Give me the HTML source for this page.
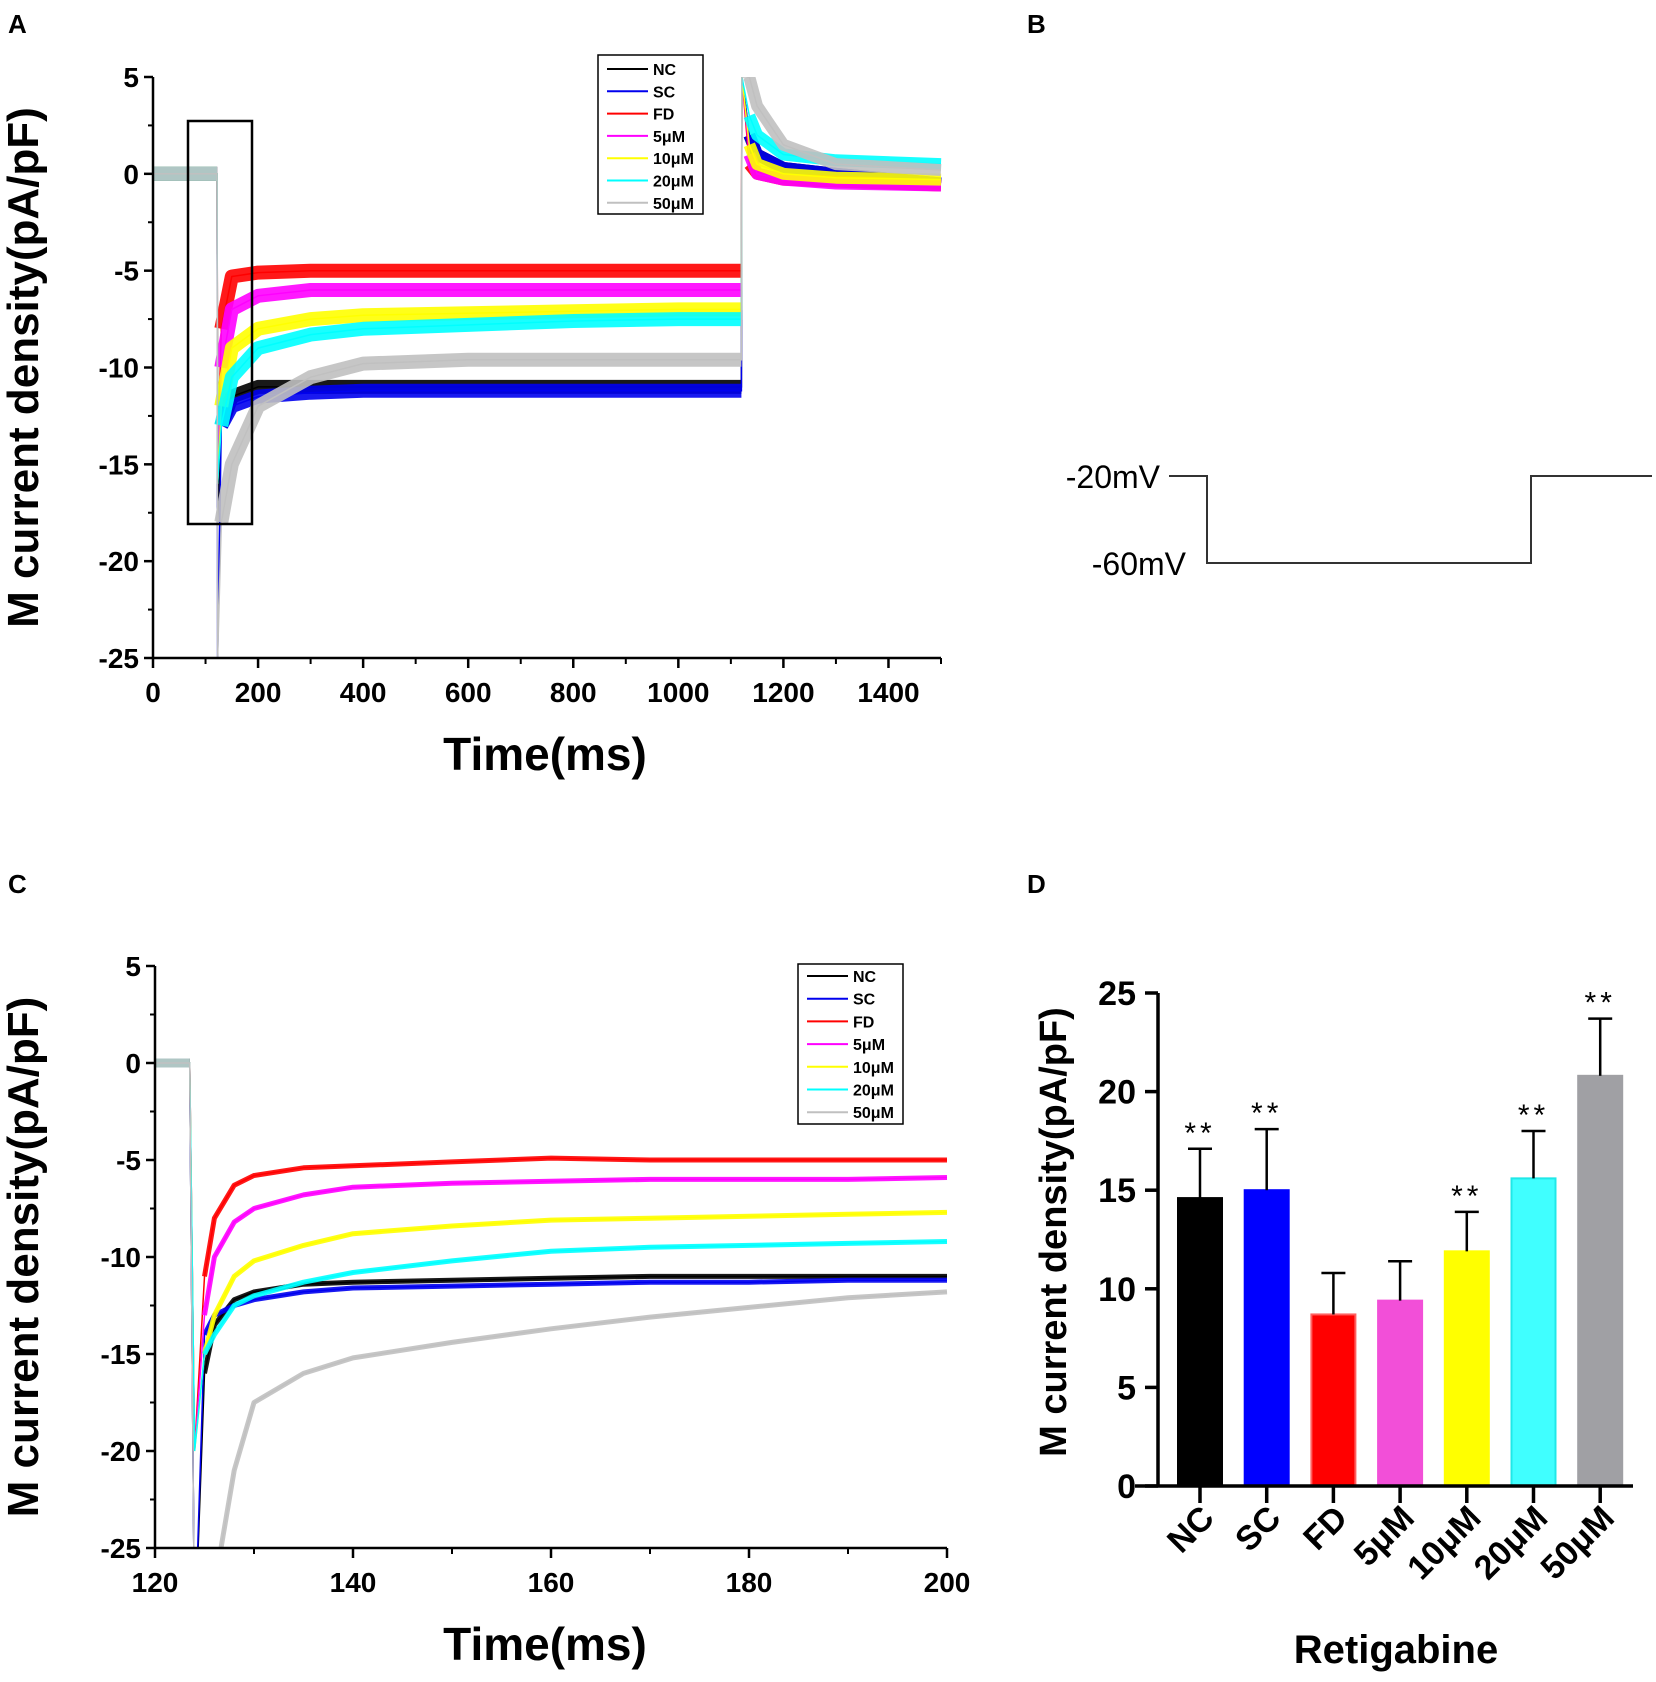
<!DOCTYPE html>
<html><head><meta charset="utf-8"><style>
html,body{margin:0;padding:0;background:#fff}
svg{display:block;font-family:"Liberation Sans",Arial,sans-serif}
</style></head><body>
<svg id="fig" width="1656" height="1682" viewBox="0 0 1656 1682" xmlns="http://www.w3.org/2000/svg">
<defs>
<clipPath id="clipA"><rect x="153" y="77" width="790" height="581"/></clipPath>
<clipPath id="clipC"><rect x="155" y="960" width="795" height="588"/></clipPath>
</defs>
<text x="8" y="33" font-size="26" font-weight="bold">A</text>
<text x="1027" y="33" font-size="26" font-weight="bold">B</text>
<text x="8" y="893" font-size="26" font-weight="bold">C</text>
<text x="1027" y="893" font-size="26" font-weight="bold">D</text>
<g id="pA"></g>
<g id="pB">
<polyline points="1169,476 1207,476 1207,563 1531,563 1531,476 1652,476" fill="none" stroke="#333" stroke-width="2"/>
<text x="1160" y="488" font-size="32" text-anchor="end">-20mV</text>
<text x="1186" y="575" font-size="32" text-anchor="end">-60mV</text>
</g>
<g id="pC"></g>
<g id="pD"></g>
</svg>
<script>
const NS="http://www.w3.org/2000/svg";
const seriesNames=["NC","SC","FD","5μM","10μM","20μM","50μM"];
const seriesColors=["#000000","#0000ee","#ff0000","#ff00ff","#ffff00","#00ffff","#c0c0c0"];
// Panel A traces (time ms, current pA/pF)
const timesA=[0,122,123,130,150,200,300,400,600,800,1000,1120,1121,1135,1150,1200,1300,1500];
const aNC=[0,0,-18,-13,-11.5,-11,-11,-11,-11,-11,-11,-11,5,2,1,0.3,0,-0.5];
const aSC=[0,0,-25,-13,-12,-11.5,-11.3,-11.2,-11.2,-11.2,-11.2,-11.2,5,2,1,0.3,0,-0.5];
const aFD=[0,0,-15,-8,-5.3,-5.1,-5,-5,-5,-5,-5,-5,5,0.5,0,-0.3,-0.4,-0.6];
const a5=[0,0,-15,-10,-7,-6.3,-6,-6,-6,-6,-6,-6,5,1,0,-0.3,-0.5,-0.6];
const a10=[0,0,-16,-12,-9,-8,-7.5,-7.3,-7.2,-7.1,-7,-7,5,1.5,0.5,0,-0.2,-0.3];
const a20=[0,0,-16,-13,-10.5,-9,-8.3,-8,-7.8,-7.6,-7.5,-7.5,5,3,2,1,0.7,0.5];
const a50=[0,0,-25,-18,-15,-12,-10.5,-9.8,-9.6,-9.6,-9.6,-9.6,5,5,3.5,1.5,0.5,0.2];
const seriesA=[aNC,aSC,aFD,a5,a10,a20,a50];
const xTicksA=[0,200,400,600,800,1000,1200,1400];
const yTicks=[5,0,-5,-10,-15,-20,-25];
// Panel C traces (zoom 120-200 ms)
const timesC=[120,123.5,124,125,126,128,130,135,140,150,160,170,180,190,200];
const cNC=[0,0,-30,-16,-13.5,-12.2,-11.8,-11.4,-11.3,-11.2,-11.1,-11,-11,-11,-11];
const cSC=[0,0,-30,-14,-13,-12.5,-12.2,-11.8,-11.6,-11.5,-11.4,-11.3,-11.3,-11.2,-11.2];
const cFD=[0,0,-20,-11,-8,-6.3,-5.8,-5.4,-5.3,-5.1,-4.9,-5,-5,-5,-5];
const c5=[0,0,-20,-13,-10,-8.2,-7.5,-6.8,-6.4,-6.2,-6.1,-6,-6,-6,-5.9];
const c10=[0,0,-20,-15,-13,-11,-10.2,-9.4,-8.8,-8.4,-8.1,-8,-7.9,-7.8,-7.7];
const c20=[0,0,-20,-15,-14,-12.5,-12,-11.3,-10.8,-10.2,-9.7,-9.5,-9.4,-9.3,-9.2];
const c50=[0,0,-30,-35,-27,-21,-17.5,-16,-15.2,-14.4,-13.7,-13.1,-12.6,-12.1,-11.8];
const seriesC=[cNC,cSC,cFD,c5,c10,c20,c50];
const xTicksC=[120,140,160,180,200];
// Panel D bars
const barCats=["NC","SC","FD","5μM","10μM","20μM","50μM"];
const barVals=[14.6,15.0,8.7,9.4,11.9,15.6,20.8];
const barErr=[17.1,18.1,10.8,11.4,13.9,18.0,23.7];
const barSig=["**","**","","","**","**","**"];
const barColors=["#000000","#0000ff","#ff0000","#f24fd8","#ffff00","#40ffff","#a0a0a4"];
const yTicksD=[0,5,10,15,20,25];

function el(tag,attrs,parent,txt){const e=document.createElementNS(NS,tag);for(const k in attrs)e.setAttribute(k,attrs[k]);if(txt!==undefined)e.textContent=txt;parent.appendChild(e);return e;}

function tracePanel(g,cfg){
  const sx=v=>cfg.x0+(v-cfg.xmin)/(cfg.xmax-cfg.xmin)*(cfg.x1-cfg.x0);
  const sy=v=>cfg.yTop+(5-v)/30*(cfg.yBot-cfg.yTop);
  const tg=el("g",{"clip-path":cfg.clip},g);
  cfg.series.forEach((s,i)=>{
    const all=cfg.times.map((t,j)=>sx(t).toFixed(1)+","+sy(s[j]).toFixed(1)).join(" ");
    const thin=el("polyline",{points:all,fill:"none",stroke:seriesColors[i],"stroke-width":1.5},tg);
    
    
    cfg.segs.forEach(sg=>{
      const pts=[];
      for(let j=sg[0];j<=sg[1];j++) pts.push(sx(cfg.times[j]).toFixed(1)+","+sy(s[j]).toFixed(1));
      const p=el("polyline",{points:pts.join(" "),fill:"none",stroke:seriesColors[i],"stroke-width":sg[2],"stroke-linejoin":"round","stroke-linecap":"butt",opacity:0.9},tg);
      
      
    });
  });
  const ax=el("line",{x1:cfg.x0,y1:cfg.yTop,x2:cfg.x0,y2:cfg.yBot,stroke:"#000","stroke-width":2.5},g);
  
  const bx=el("line",{x1:cfg.x0,y1:cfg.yBot,x2:cfg.x1,y2:cfg.yBot,stroke:"#000","stroke-width":2.5},g);
  
  yTicks.forEach(v=>{
    const y=sy(v);
    el("line",{x1:cfg.x0-9,y1:y,x2:cfg.x0,y2:y,stroke:"#000","stroke-width":2.5},g);
    if(v>-25) el("line",{x1:cfg.x0-5,y1:sy(v-2.5),x2:cfg.x0,y2:sy(v-2.5),stroke:"#000","stroke-width":2},g);
    const t=el("text",{x:cfg.x0-14,y:y+10,"font-size":28,"font-weight":"bold","text-anchor":"end"},g,String(v));
    
  });
  cfg.xTicks.forEach(v=>{
    const x=sx(v);
    el("line",{x1:x,y1:cfg.yBot,x2:x,y2:cfg.yBot+10,stroke:"#000","stroke-width":2.5},g);
    const mv=v+cfg.minor;
    if(mv<=cfg.xmax) el("line",{x1:sx(mv),y1:cfg.yBot,x2:sx(mv),y2:cfg.yBot+6,stroke:"#000","stroke-width":2},g);
    const t=el("text",{x:x,y:cfg.yBot+44,"font-size":28,"font-weight":"bold","text-anchor":"middle"},g,String(v));
    
  });
  const xt=el("text",{x:cfg.xTitleX,y:cfg.yBot+112,"font-size":46,"font-weight":"bold","text-anchor":"middle"},g,"Time(ms)");
  
  const yc=(cfg.yTop+cfg.yBot)/2;
  const yt=el("text",{x:0,y:0,"font-size":44,"font-weight":"bold","text-anchor":"middle",transform:`translate(38,${yc}) rotate(-90)`},g,"M current density(pA/pF)");
  
  const L=cfg.leg;
  const lb=el("rect",{x:L.x,y:L.y,width:L.w,height:L.h,fill:"#fff",stroke:"#000","stroke-width":1.5},g);
  
  seriesNames.forEach((n,i)=>{
    const yy=L.y+L.first+i*L.step;
    el("line",{x1:L.x+9,y1:yy,x2:L.x+L.lineW,y2:yy,stroke:seriesColors[i],"stroke-width":2},g);
    const t=el("text",{x:L.x+L.lineW+5,y:yy+6,"font-size":L.fs,"font-weight":"bold"},g,n);
    
  });
}

tracePanel(document.getElementById("pA"),{x0:153,x1:941,xmin:0,xmax:1500,yTop:77,yBot:658,times:timesA,series:seriesA,segs:[[0,1,14],[3,11,14],[13,17,12]],clip:"url(#clipA)",xTicks:xTicksA,minor:100,xTitleX:545,
  leg:{x:598,y:55,w:105,h:159,first:14,step:22.3,lineW:50,fs:16}});
const sel=document.createElementNS(NS,"rect");
sel.setAttribute("x",188);sel.setAttribute("y",121);sel.setAttribute("width",64);sel.setAttribute("height",403);
sel.setAttribute("fill","none");sel.setAttribute("stroke","#000");sel.setAttribute("stroke-width",2.5);


document.getElementById("pA").appendChild(sel);

tracePanel(document.getElementById("pC"),{x0:155,x1:947,xmin:120,xmax:200,yTop:966,yBot:1548,times:timesC,series:seriesC,segs:[[0,1,9],[3,14,5]],clip:"url(#clipC)",xTicks:xTicksC,minor:10,xTitleX:545,
  leg:{x:798,y:964,w:105,h:160,first:12,step:22.7,lineW:50,fs:16}});

(function(){
  const g=document.getElementById("pD");
  const x0=1158,yBase=1486,yTopV=993,axisEnd=1633;
  const sy=v=>yBase-v/25*(yBase-yTopV);
  const cx=i=>1200+i*66.7;
  const bw=44;
  barVals.forEach((v,i)=>{
    const r=el("rect",{x:cx(i)-bw/2,y:sy(v),width:bw,height:yBase-sy(v),fill:barColors[i],stroke:i===2?"#ff6060":(i===5?"#20e8e8":barColors[i]),"stroke-width":2},g);
    
    
    el("line",{x1:cx(i),y1:sy(v),x2:cx(i),y2:sy(barErr[i]),stroke:"#000","stroke-width":2.5},g);
    el("line",{x1:cx(i)-12,y1:sy(barErr[i]),x2:cx(i)+12,y2:sy(barErr[i]),stroke:"#000","stroke-width":2.5},g);
    if(barSig[i]){
      const s=el("text",{x:cx(i),y:sy(barErr[i])-6,"font-size":30,"text-anchor":"middle","letter-spacing":"4"},g,barSig[i]);
      
    }
    el("line",{x1:cx(i),y1:yBase,x2:cx(i),y2:yBase+17,stroke:"#000","stroke-width":3.5},g);
    const t=el("text",{x:0,y:0,"font-size":34,"font-weight":"bold","text-anchor":"end",transform:`translate(${cx(i)+16},${yBase+34}) rotate(-45)`},g,barCats[i]);
    
  });
  const ya=el("line",{x1:x0,y1:yTopV,x2:x0,y2:yBase,stroke:"#000","stroke-width":3.5},g);
  
  const xa=el("line",{x1:1135,y1:yBase,x2:axisEnd,y2:yBase,stroke:"#000","stroke-width":3.5},g);
  
  yTicksD.forEach(v=>{
    el("line",{x1:x0-13,y1:sy(v),x2:x0,y2:sy(v),stroke:"#000","stroke-width":3.5},g);
    const t=el("text",{x:x0-22,y:sy(v)+12,"font-size":34,"font-weight":"bold","text-anchor":"end"},g,String(v));
    
  });
  const yt=el("text",{x:0,y:0,"font-size":38,"font-weight":"bold","text-anchor":"middle",transform:`translate(1066,1232) rotate(-90)`},g,"M current density(pA/pF)");
  
  const xt=el("text",{x:1396,y:1663,"font-size":40,"font-weight":"bold","text-anchor":"middle"},g,"Retigabine");
  
})();
</script>
</body></html>
